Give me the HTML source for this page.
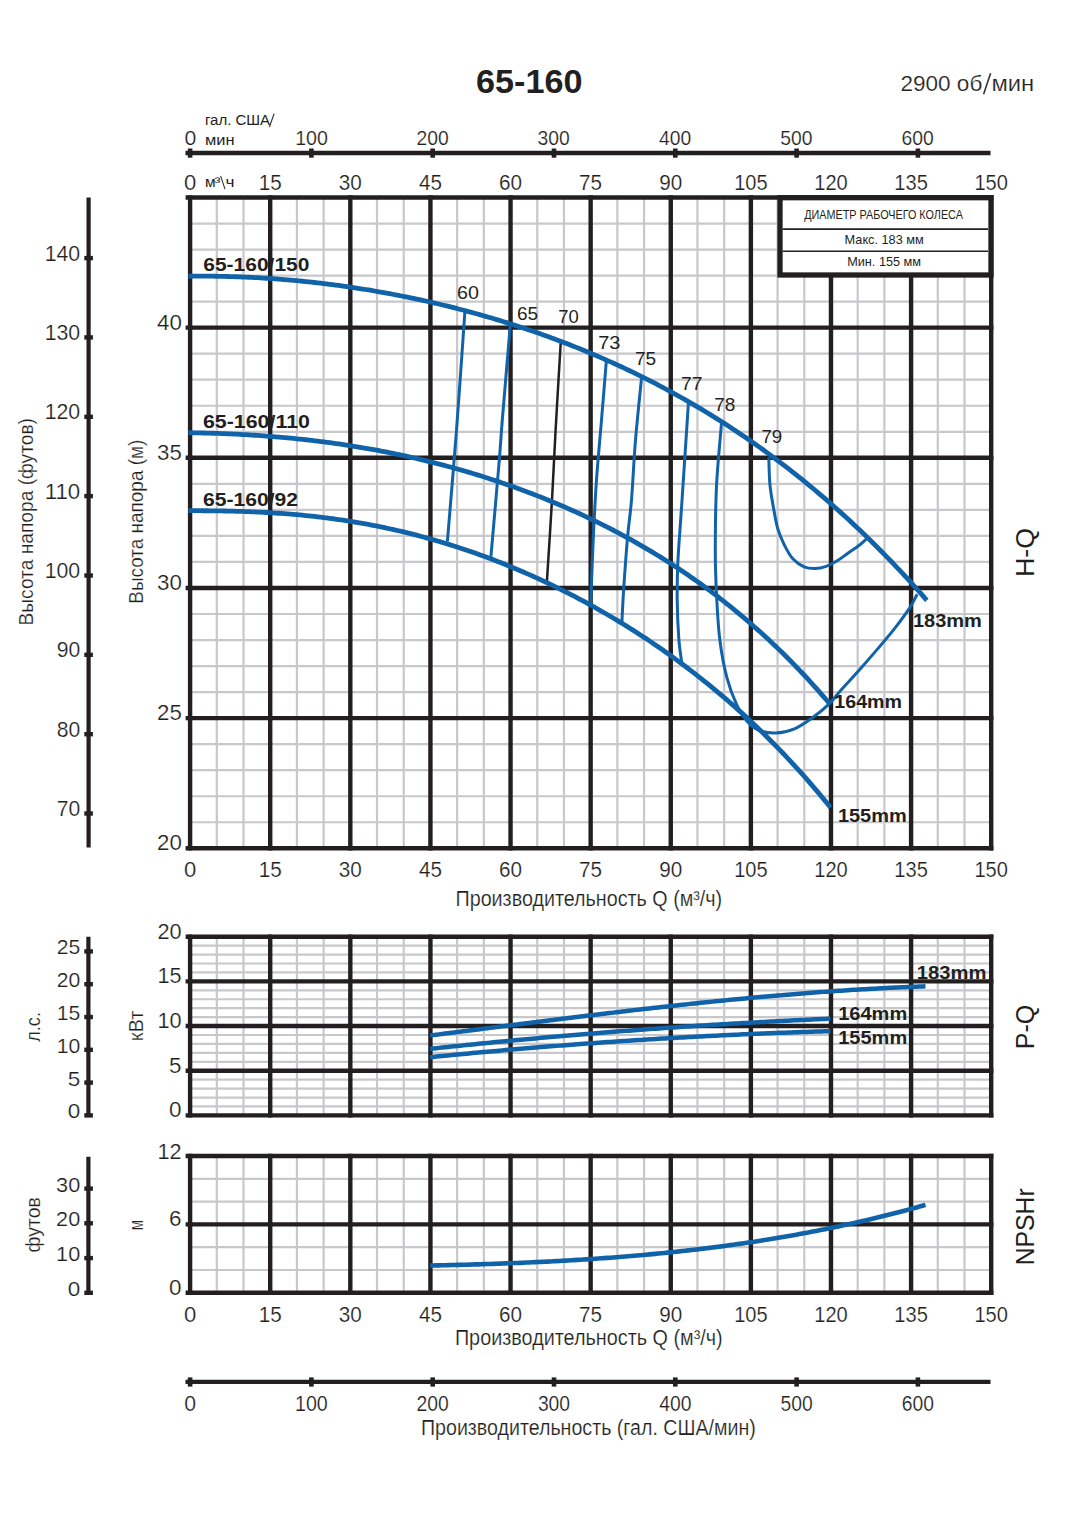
<!DOCTYPE html>
<html><head><meta charset="utf-8"><title>65-160</title>
<style>html,body{margin:0;padding:0;background:#fff;width:1088px;height:1538px;overflow:hidden;position:relative}
text{font-family:"Liberation Sans",sans-serif}
text.thin{stroke:#fff;stroke-width:0.2px}</style></head>
<body>
<svg width="1088" height="1538" viewBox="0 0 1088 1538" style="position:absolute;left:0;top:0">
<g font-family='"Liberation Sans", sans-serif'>
<text x="476.0" y="92.6" font-size="33" font-weight="bold" text-anchor="start" fill="#231f20" textLength="106.5" lengthAdjust="spacingAndGlyphs">65-160</text>
<text class="thin" x="900.5" y="90.5" font-size="22.4" font-weight="normal" text-anchor="start" fill="#231f20" textLength="81.8" lengthAdjust="spacingAndGlyphs">2900 об</text>
<line x1="990.60" y1="73.20" x2="983.60" y2="94.20" stroke="#333" stroke-width="1.6" stroke-linecap="butt"/>
<text class="thin" x="991.4" y="90.5" font-size="22.4" font-weight="normal" text-anchor="start" fill="#231f20" textLength="42.8" lengthAdjust="spacingAndGlyphs">мин</text>
<line x1="185.50" y1="153.00" x2="990.50" y2="153.00" stroke="#231f20" stroke-width="4.4" stroke-linecap="butt"/>
<rect x="187.8" y="148.5" width="4.6" height="9.2" fill="#231f20"/>
<rect x="309.1" y="148.5" width="4.6" height="9.2" fill="#231f20"/>
<rect x="430.4" y="148.5" width="4.6" height="9.2" fill="#231f20"/>
<rect x="551.7" y="148.5" width="4.6" height="9.2" fill="#231f20"/>
<rect x="673.0" y="148.5" width="4.6" height="9.2" fill="#231f20"/>
<rect x="794.3" y="148.5" width="4.6" height="9.2" fill="#231f20"/>
<rect x="915.6" y="148.5" width="4.6" height="9.2" fill="#231f20"/>
<text class="thin" x="184.6" y="145.4" font-size="20.5" font-weight="normal" text-anchor="start" fill="#231f20" textLength="11.8" lengthAdjust="spacingAndGlyphs">0</text>
<text class="thin" x="295.2" y="145.4" font-size="20.5" font-weight="normal" text-anchor="start" fill="#231f20" textLength="32.8" lengthAdjust="spacingAndGlyphs">100</text>
<text class="thin" x="416.6" y="145.4" font-size="20.5" font-weight="normal" text-anchor="start" fill="#231f20" textLength="32.2" lengthAdjust="spacingAndGlyphs">200</text>
<text class="thin" x="537.6" y="145.4" font-size="20.5" font-weight="normal" text-anchor="start" fill="#231f20" textLength="32.2" lengthAdjust="spacingAndGlyphs">300</text>
<text class="thin" x="659.0" y="145.4" font-size="20.5" font-weight="normal" text-anchor="start" fill="#231f20" textLength="32.2" lengthAdjust="spacingAndGlyphs">400</text>
<text class="thin" x="780.3" y="145.4" font-size="20.5" font-weight="normal" text-anchor="start" fill="#231f20" textLength="32.2" lengthAdjust="spacingAndGlyphs">500</text>
<text class="thin" x="901.6" y="145.4" font-size="20.5" font-weight="normal" text-anchor="start" fill="#231f20" textLength="32.2" lengthAdjust="spacingAndGlyphs">600</text>
<text x="204.9" y="124.9" font-size="15.5" font-weight="normal" text-anchor="start" fill="#231f20" textLength="65.2" lengthAdjust="spacingAndGlyphs">гал. США</text>
<line x1="274.10" y1="113.60" x2="269.40" y2="127.00" stroke="#333" stroke-width="1.15" stroke-linecap="butt"/>
<text x="204.9" y="144.8" font-size="15.5" font-weight="normal" text-anchor="start" fill="#231f20" textLength="29.6" lengthAdjust="spacingAndGlyphs">мин</text>
<text class="thin" x="190.1" y="189.6" font-size="22" font-weight="normal" text-anchor="middle" fill="#231f20" textLength="12.3" lengthAdjust="spacingAndGlyphs">0</text>
<text class="thin" x="270.2" y="189.6" font-size="22" font-weight="normal" text-anchor="middle" fill="#231f20" textLength="23.0" lengthAdjust="spacingAndGlyphs">15</text>
<text class="thin" x="350.3" y="189.6" font-size="22" font-weight="normal" text-anchor="middle" fill="#231f20" textLength="23.0" lengthAdjust="spacingAndGlyphs">30</text>
<text class="thin" x="430.4" y="189.6" font-size="22" font-weight="normal" text-anchor="middle" fill="#231f20" textLength="23.0" lengthAdjust="spacingAndGlyphs">45</text>
<text class="thin" x="510.5" y="189.6" font-size="22" font-weight="normal" text-anchor="middle" fill="#231f20" textLength="23.0" lengthAdjust="spacingAndGlyphs">60</text>
<text class="thin" x="590.6" y="189.6" font-size="22" font-weight="normal" text-anchor="middle" fill="#231f20" textLength="23.0" lengthAdjust="spacingAndGlyphs">75</text>
<text class="thin" x="670.8" y="189.6" font-size="22" font-weight="normal" text-anchor="middle" fill="#231f20" textLength="23.0" lengthAdjust="spacingAndGlyphs">90</text>
<text class="thin" x="750.9" y="189.6" font-size="22" font-weight="normal" text-anchor="middle" fill="#231f20" textLength="33.5" lengthAdjust="spacingAndGlyphs">105</text>
<text class="thin" x="831.0" y="189.6" font-size="22" font-weight="normal" text-anchor="middle" fill="#231f20" textLength="33.5" lengthAdjust="spacingAndGlyphs">120</text>
<text class="thin" x="911.1" y="189.6" font-size="22" font-weight="normal" text-anchor="middle" fill="#231f20" textLength="33.5" lengthAdjust="spacingAndGlyphs">135</text>
<text class="thin" x="991.2" y="189.6" font-size="22" font-weight="normal" text-anchor="middle" fill="#231f20" textLength="33.5" lengthAdjust="spacingAndGlyphs">150</text>
<text x="204.9" y="187.0" font-size="15.5" font-weight="normal" text-anchor="start" fill="#231f20" textLength="10.6" lengthAdjust="spacingAndGlyphs">м</text>
<text x="214.6" y="185.8" font-size="13" font-weight="normal" text-anchor="start" fill="#231f20" textLength="6.0" lengthAdjust="spacingAndGlyphs">³</text>
<line x1="220.60" y1="175.80" x2="225.00" y2="189.10" stroke="#333" stroke-width="1.1" stroke-linecap="butt"/>
<text x="225.6" y="187.0" font-size="15.5" font-weight="normal" text-anchor="start" fill="#231f20" textLength="9.0" lengthAdjust="spacingAndGlyphs">ч</text>
<line x1="216.80" y1="197.50" x2="216.80" y2="848.30" stroke="#c8c8cc" stroke-width="2.2" stroke-linecap="butt"/>
<line x1="243.51" y1="197.50" x2="243.51" y2="848.30" stroke="#c8c8cc" stroke-width="2.2" stroke-linecap="butt"/>
<line x1="296.91" y1="197.50" x2="296.91" y2="848.30" stroke="#c8c8cc" stroke-width="2.2" stroke-linecap="butt"/>
<line x1="323.62" y1="197.50" x2="323.62" y2="848.30" stroke="#c8c8cc" stroke-width="2.2" stroke-linecap="butt"/>
<line x1="377.02" y1="197.50" x2="377.02" y2="848.30" stroke="#c8c8cc" stroke-width="2.2" stroke-linecap="butt"/>
<line x1="403.73" y1="197.50" x2="403.73" y2="848.30" stroke="#c8c8cc" stroke-width="2.2" stroke-linecap="butt"/>
<line x1="457.13" y1="197.50" x2="457.13" y2="848.30" stroke="#c8c8cc" stroke-width="2.2" stroke-linecap="butt"/>
<line x1="483.84" y1="197.50" x2="483.84" y2="848.30" stroke="#c8c8cc" stroke-width="2.2" stroke-linecap="butt"/>
<line x1="537.24" y1="197.50" x2="537.24" y2="848.30" stroke="#c8c8cc" stroke-width="2.2" stroke-linecap="butt"/>
<line x1="563.95" y1="197.50" x2="563.95" y2="848.30" stroke="#c8c8cc" stroke-width="2.2" stroke-linecap="butt"/>
<line x1="617.35" y1="197.50" x2="617.35" y2="848.30" stroke="#c8c8cc" stroke-width="2.2" stroke-linecap="butt"/>
<line x1="644.06" y1="197.50" x2="644.06" y2="848.30" stroke="#c8c8cc" stroke-width="2.2" stroke-linecap="butt"/>
<line x1="697.46" y1="197.50" x2="697.46" y2="848.30" stroke="#c8c8cc" stroke-width="2.2" stroke-linecap="butt"/>
<line x1="724.17" y1="197.50" x2="724.17" y2="848.30" stroke="#c8c8cc" stroke-width="2.2" stroke-linecap="butt"/>
<line x1="777.57" y1="197.50" x2="777.57" y2="848.30" stroke="#c8c8cc" stroke-width="2.2" stroke-linecap="butt"/>
<line x1="804.28" y1="197.50" x2="804.28" y2="848.30" stroke="#c8c8cc" stroke-width="2.2" stroke-linecap="butt"/>
<line x1="857.68" y1="197.50" x2="857.68" y2="848.30" stroke="#c8c8cc" stroke-width="2.2" stroke-linecap="butt"/>
<line x1="884.39" y1="197.50" x2="884.39" y2="848.30" stroke="#c8c8cc" stroke-width="2.2" stroke-linecap="butt"/>
<line x1="937.79" y1="197.50" x2="937.79" y2="848.30" stroke="#c8c8cc" stroke-width="2.2" stroke-linecap="butt"/>
<line x1="964.50" y1="197.50" x2="964.50" y2="848.30" stroke="#c8c8cc" stroke-width="2.2" stroke-linecap="butt"/>
<line x1="190.10" y1="223.53" x2="991.20" y2="223.53" stroke="#c8c8cc" stroke-width="2.2" stroke-linecap="butt"/>
<line x1="190.10" y1="249.56" x2="991.20" y2="249.56" stroke="#c8c8cc" stroke-width="2.2" stroke-linecap="butt"/>
<line x1="190.10" y1="275.60" x2="991.20" y2="275.60" stroke="#c8c8cc" stroke-width="2.2" stroke-linecap="butt"/>
<line x1="190.10" y1="301.63" x2="991.20" y2="301.63" stroke="#c8c8cc" stroke-width="2.2" stroke-linecap="butt"/>
<line x1="190.10" y1="353.69" x2="991.20" y2="353.69" stroke="#c8c8cc" stroke-width="2.2" stroke-linecap="butt"/>
<line x1="190.10" y1="379.72" x2="991.20" y2="379.72" stroke="#c8c8cc" stroke-width="2.2" stroke-linecap="butt"/>
<line x1="190.10" y1="405.76" x2="991.20" y2="405.76" stroke="#c8c8cc" stroke-width="2.2" stroke-linecap="butt"/>
<line x1="190.10" y1="431.79" x2="991.20" y2="431.79" stroke="#c8c8cc" stroke-width="2.2" stroke-linecap="butt"/>
<line x1="190.10" y1="483.85" x2="991.20" y2="483.85" stroke="#c8c8cc" stroke-width="2.2" stroke-linecap="butt"/>
<line x1="190.10" y1="509.88" x2="991.20" y2="509.88" stroke="#c8c8cc" stroke-width="2.2" stroke-linecap="butt"/>
<line x1="190.10" y1="535.92" x2="991.20" y2="535.92" stroke="#c8c8cc" stroke-width="2.2" stroke-linecap="butt"/>
<line x1="190.10" y1="561.95" x2="991.20" y2="561.95" stroke="#c8c8cc" stroke-width="2.2" stroke-linecap="butt"/>
<line x1="190.10" y1="614.01" x2="991.20" y2="614.01" stroke="#c8c8cc" stroke-width="2.2" stroke-linecap="butt"/>
<line x1="190.10" y1="640.04" x2="991.20" y2="640.04" stroke="#c8c8cc" stroke-width="2.2" stroke-linecap="butt"/>
<line x1="190.10" y1="666.08" x2="991.20" y2="666.08" stroke="#c8c8cc" stroke-width="2.2" stroke-linecap="butt"/>
<line x1="190.10" y1="692.11" x2="991.20" y2="692.11" stroke="#c8c8cc" stroke-width="2.2" stroke-linecap="butt"/>
<line x1="190.10" y1="744.17" x2="991.20" y2="744.17" stroke="#c8c8cc" stroke-width="2.2" stroke-linecap="butt"/>
<line x1="190.10" y1="770.20" x2="991.20" y2="770.20" stroke="#c8c8cc" stroke-width="2.2" stroke-linecap="butt"/>
<line x1="190.10" y1="796.24" x2="991.20" y2="796.24" stroke="#c8c8cc" stroke-width="2.2" stroke-linecap="butt"/>
<line x1="190.10" y1="822.27" x2="991.20" y2="822.27" stroke="#c8c8cc" stroke-width="2.2" stroke-linecap="butt"/>
<line x1="185.60" y1="197.50" x2="993.40" y2="197.50" stroke="#231f20" stroke-width="4.4" stroke-linecap="butt"/>
<line x1="185.60" y1="327.66" x2="993.40" y2="327.66" stroke="#231f20" stroke-width="4.4" stroke-linecap="butt"/>
<line x1="185.60" y1="457.82" x2="993.40" y2="457.82" stroke="#231f20" stroke-width="4.4" stroke-linecap="butt"/>
<line x1="185.60" y1="587.98" x2="993.40" y2="587.98" stroke="#231f20" stroke-width="4.4" stroke-linecap="butt"/>
<line x1="185.60" y1="718.14" x2="993.40" y2="718.14" stroke="#231f20" stroke-width="4.4" stroke-linecap="butt"/>
<line x1="185.60" y1="848.30" x2="993.40" y2="848.30" stroke="#231f20" stroke-width="4.4" stroke-linecap="butt"/>
<line x1="190.10" y1="195.30" x2="190.10" y2="850.50" stroke="#231f20" stroke-width="4.4" stroke-linecap="butt"/>
<line x1="270.21" y1="195.30" x2="270.21" y2="850.50" stroke="#231f20" stroke-width="4.4" stroke-linecap="butt"/>
<line x1="350.32" y1="195.30" x2="350.32" y2="850.50" stroke="#231f20" stroke-width="4.4" stroke-linecap="butt"/>
<line x1="430.43" y1="195.30" x2="430.43" y2="850.50" stroke="#231f20" stroke-width="4.4" stroke-linecap="butt"/>
<line x1="510.54" y1="195.30" x2="510.54" y2="850.50" stroke="#231f20" stroke-width="4.4" stroke-linecap="butt"/>
<line x1="590.65" y1="195.30" x2="590.65" y2="850.50" stroke="#231f20" stroke-width="4.4" stroke-linecap="butt"/>
<line x1="670.76" y1="195.30" x2="670.76" y2="850.50" stroke="#231f20" stroke-width="4.4" stroke-linecap="butt"/>
<line x1="750.87" y1="195.30" x2="750.87" y2="850.50" stroke="#231f20" stroke-width="4.4" stroke-linecap="butt"/>
<line x1="830.98" y1="195.30" x2="830.98" y2="850.50" stroke="#231f20" stroke-width="4.4" stroke-linecap="butt"/>
<line x1="911.09" y1="195.30" x2="911.09" y2="850.50" stroke="#231f20" stroke-width="4.4" stroke-linecap="butt"/>
<line x1="991.20" y1="195.30" x2="991.20" y2="850.50" stroke="#231f20" stroke-width="4.4" stroke-linecap="butt"/>
<line x1="88.60" y1="197.50" x2="88.60" y2="847.50" stroke="#231f20" stroke-width="4.2" stroke-linecap="butt"/>
<rect x="84.3" y="811.3" width="8.6" height="4.4" fill="#231f20"/>
<text class="thin" x="80.2" y="816.1" font-size="21.8" font-weight="normal" text-anchor="end" fill="#231f20" textLength="23.5" lengthAdjust="spacingAndGlyphs">70</text>
<rect x="84.3" y="732.0" width="8.6" height="4.4" fill="#231f20"/>
<text class="thin" x="80.2" y="736.8" font-size="21.8" font-weight="normal" text-anchor="end" fill="#231f20" textLength="23.5" lengthAdjust="spacingAndGlyphs">80</text>
<rect x="84.3" y="652.6" width="8.6" height="4.4" fill="#231f20"/>
<text class="thin" x="80.2" y="657.4" font-size="21.8" font-weight="normal" text-anchor="end" fill="#231f20" textLength="23.5" lengthAdjust="spacingAndGlyphs">90</text>
<rect x="84.3" y="573.3" width="8.6" height="4.4" fill="#231f20"/>
<text class="thin" x="80.2" y="578.1" font-size="21.8" font-weight="normal" text-anchor="end" fill="#231f20" textLength="35.5" lengthAdjust="spacingAndGlyphs">100</text>
<rect x="84.3" y="493.9" width="8.6" height="4.4" fill="#231f20"/>
<text class="thin" x="80.2" y="498.7" font-size="21.8" font-weight="normal" text-anchor="end" fill="#231f20" textLength="35.5" lengthAdjust="spacingAndGlyphs">110</text>
<rect x="84.3" y="414.6" width="8.6" height="4.4" fill="#231f20"/>
<text class="thin" x="80.2" y="419.4" font-size="21.8" font-weight="normal" text-anchor="end" fill="#231f20" textLength="35.5" lengthAdjust="spacingAndGlyphs">120</text>
<rect x="84.3" y="335.2" width="8.6" height="4.4" fill="#231f20"/>
<text class="thin" x="80.2" y="340.0" font-size="21.8" font-weight="normal" text-anchor="end" fill="#231f20" textLength="35.5" lengthAdjust="spacingAndGlyphs">130</text>
<rect x="84.3" y="255.9" width="8.6" height="4.4" fill="#231f20"/>
<text class="thin" x="80.2" y="260.7" font-size="21.8" font-weight="normal" text-anchor="end" fill="#231f20" textLength="35.5" lengthAdjust="spacingAndGlyphs">140</text>
<text class="thin" x="181.8" y="850.3" font-size="21.5" font-weight="normal" text-anchor="end" fill="#231f20" textLength="24.8" lengthAdjust="spacingAndGlyphs">20</text>
<text class="thin" x="181.8" y="720.1" font-size="21.5" font-weight="normal" text-anchor="end" fill="#231f20" textLength="24.8" lengthAdjust="spacingAndGlyphs">25</text>
<text class="thin" x="181.8" y="590.0" font-size="21.5" font-weight="normal" text-anchor="end" fill="#231f20" textLength="24.8" lengthAdjust="spacingAndGlyphs">30</text>
<text class="thin" x="181.8" y="459.8" font-size="21.5" font-weight="normal" text-anchor="end" fill="#231f20" textLength="24.8" lengthAdjust="spacingAndGlyphs">35</text>
<text class="thin" x="181.8" y="329.7" font-size="21.5" font-weight="normal" text-anchor="end" fill="#231f20" textLength="24.8" lengthAdjust="spacingAndGlyphs">40</text>
<text class="thin" transform="translate(33.4,625.5) rotate(-90)" x="0" y="0" font-size="20" font-weight="normal" fill="#231f20" textLength="207.5" lengthAdjust="spacingAndGlyphs">Высота напора (футов)</text>
<text class="thin" transform="translate(143.4,603.7) rotate(-90)" x="0" y="0" font-size="20" font-weight="normal" fill="#231f20" textLength="164.0" lengthAdjust="spacingAndGlyphs">Высота напора (м)</text>
<text class="thin" x="190.1" y="876.6" font-size="22" font-weight="normal" text-anchor="middle" fill="#231f20" textLength="12.3" lengthAdjust="spacingAndGlyphs">0</text>
<text class="thin" x="270.2" y="876.6" font-size="22" font-weight="normal" text-anchor="middle" fill="#231f20" textLength="23.0" lengthAdjust="spacingAndGlyphs">15</text>
<text class="thin" x="350.3" y="876.6" font-size="22" font-weight="normal" text-anchor="middle" fill="#231f20" textLength="23.0" lengthAdjust="spacingAndGlyphs">30</text>
<text class="thin" x="430.4" y="876.6" font-size="22" font-weight="normal" text-anchor="middle" fill="#231f20" textLength="23.0" lengthAdjust="spacingAndGlyphs">45</text>
<text class="thin" x="510.5" y="876.6" font-size="22" font-weight="normal" text-anchor="middle" fill="#231f20" textLength="23.0" lengthAdjust="spacingAndGlyphs">60</text>
<text class="thin" x="590.6" y="876.6" font-size="22" font-weight="normal" text-anchor="middle" fill="#231f20" textLength="23.0" lengthAdjust="spacingAndGlyphs">75</text>
<text class="thin" x="670.8" y="876.6" font-size="22" font-weight="normal" text-anchor="middle" fill="#231f20" textLength="23.0" lengthAdjust="spacingAndGlyphs">90</text>
<text class="thin" x="750.9" y="876.6" font-size="22" font-weight="normal" text-anchor="middle" fill="#231f20" textLength="33.5" lengthAdjust="spacingAndGlyphs">105</text>
<text class="thin" x="831.0" y="876.6" font-size="22" font-weight="normal" text-anchor="middle" fill="#231f20" textLength="33.5" lengthAdjust="spacingAndGlyphs">120</text>
<text class="thin" x="911.1" y="876.6" font-size="22" font-weight="normal" text-anchor="middle" fill="#231f20" textLength="33.5" lengthAdjust="spacingAndGlyphs">135</text>
<text class="thin" x="991.2" y="876.6" font-size="22" font-weight="normal" text-anchor="middle" fill="#231f20" textLength="33.5" lengthAdjust="spacingAndGlyphs">150</text>
<text class="thin" x="455.5" y="905.8" font-size="21.5" font-weight="normal" text-anchor="start" fill="#231f20" textLength="266.7" lengthAdjust="spacingAndGlyphs">Производительность Q (м³/ч)</text>
<rect x="780.0" y="197.7" width="211" height="77.3" fill="#fff" stroke="#231f20" stroke-width="5.3"/>
<line x1="782.70" y1="229.10" x2="988.00" y2="229.10" stroke="#231f20" stroke-width="1.6" stroke-linecap="butt"/>
<line x1="782.70" y1="251.20" x2="988.00" y2="251.20" stroke="#231f20" stroke-width="1.6" stroke-linecap="butt"/>
<text x="804.2" y="218.6" font-size="12.5" font-weight="normal" text-anchor="start" fill="#231f20" textLength="158.7" lengthAdjust="spacingAndGlyphs">ДИАМЕТР РАБОЧЕГО КОЛЕСА</text>
<text x="844.6" y="243.5" font-size="13" font-weight="normal" text-anchor="start" fill="#231f20" textLength="79.2" lengthAdjust="spacingAndGlyphs">Макс. 183 мм</text>
<text x="847.2" y="265.5" font-size="13" font-weight="normal" text-anchor="start" fill="#231f20" textLength="73.8" lengthAdjust="spacingAndGlyphs">Мин. 155 мм</text>
<path d="M464.90,311.60 C463.50,331.33 459.42,391.72 456.50,430.00 C453.58,468.28 448.92,522.75 447.40,541.30" fill="none" stroke="#1163a9" stroke-width="3.0" stroke-linecap="butt" stroke-linejoin="round"/>
<path d="M510.30,325.00 C508.97,340.83 504.13,397.50 502.30,420.00 C500.47,442.50 501.20,437.20 499.30,460.00 C497.40,482.80 492.30,540.67 490.90,556.80" fill="none" stroke="#1163a9" stroke-width="3.0" stroke-linecap="butt" stroke-linejoin="round"/>
<path d="M606.30,361.50 C605.50,371.25 603.13,400.25 601.50,420.00 C599.87,439.75 597.88,460.00 596.50,480.00 C595.12,500.00 594.18,518.83 593.20,540.00 C592.22,561.17 591.03,595.83 590.60,607.00" fill="none" stroke="#1163a9" stroke-width="3.0" stroke-linecap="butt" stroke-linejoin="round"/>
<path d="M641.50,378.40 C640.50,388.67 637.17,419.73 635.50,440.00 C633.83,460.27 632.80,484.05 631.50,500.00 C630.20,515.95 628.98,521.17 627.70,535.70 C626.42,550.23 624.77,572.82 623.80,587.20 C622.83,601.58 622.22,616.20 621.90,622.00" fill="none" stroke="#1163a9" stroke-width="3.0" stroke-linecap="butt" stroke-linejoin="round"/>
<path d="M688.40,403.20 C687.28,420.17 683.45,478.62 681.70,505.00 C679.95,531.38 678.65,545.67 677.90,561.50 C677.15,577.33 677.05,587.13 677.20,600.00 C677.35,612.87 678.05,628.28 678.80,638.70 C679.55,649.12 681.22,658.53 681.70,662.50" fill="none" stroke="#1163a9" stroke-width="3.0" stroke-linecap="butt" stroke-linejoin="round"/>
<path d="M721.50,423.40 C720.67,433.87 717.53,464.77 716.50,486.20 C715.47,507.63 715.30,534.10 715.30,552.00 C715.30,569.90 715.77,579.15 716.50,593.60 C717.23,608.05 717.98,624.75 719.70,638.70 C721.42,652.65 723.88,666.10 726.80,677.30 C729.72,688.50 733.80,698.52 737.20,705.90 C740.60,713.28 743.63,717.55 747.20,721.60 C750.77,725.65 753.83,728.30 758.60,730.20 C763.37,732.10 769.83,733.23 775.80,733.00 C781.77,732.77 788.20,731.42 794.40,728.80 C800.60,726.18 807.28,721.37 813.00,717.30 C818.72,713.23 824.20,708.75 828.70,704.40 C833.20,700.05 835.05,696.77 840.00,691.20 C844.95,685.63 852.27,677.88 858.40,671.00 C864.53,664.12 870.68,657.10 876.80,649.90 C882.92,642.70 889.58,634.85 895.10,627.80 C900.62,620.75 906.22,613.20 909.90,607.60 C913.58,602.00 915.98,596.43 917.20,594.20" fill="none" stroke="#1163a9" stroke-width="3.0" stroke-linecap="butt" stroke-linejoin="round"/>
<path d="M768.80,457.60 C768.98,462.02 769.17,476.00 769.90,484.10 C770.63,492.20 771.92,498.85 773.20,506.20 C774.48,513.55 775.75,521.77 777.60,528.20 C779.45,534.63 781.72,539.65 784.30,544.80 C786.88,549.95 789.80,555.43 793.10,559.10 C796.40,562.77 800.43,565.23 804.10,566.80 C807.77,568.37 811.42,568.58 815.10,568.50 C818.78,568.42 822.52,567.58 826.20,566.30 C829.88,565.02 833.53,563.02 837.20,560.80 C840.87,558.58 844.52,555.58 848.20,553.00 C851.88,550.42 856.27,547.63 859.30,545.30 C862.33,542.97 865.22,540.05 866.40,539.00" fill="none" stroke="#1163a9" stroke-width="3.0" stroke-linecap="butt" stroke-linejoin="round"/>
<path d="M560.80,341.30 C559.93,356.08 557.07,403.57 555.60,430.00 C554.13,456.43 553.45,474.63 552.00,499.90 C550.55,525.17 547.75,567.98 546.90,581.60" fill="none" stroke="#231f20" stroke-width="2.5" stroke-linecap="butt" stroke-linejoin="round"/>
<path d="M188.50,276.26 L191.50,276.22 L194.50,276.19 L197.50,276.17 L200.50,276.16 L203.51,276.15 L206.51,276.16 L209.51,276.18 L212.51,276.21 L215.51,276.24 L218.51,276.29 L221.51,276.34 L224.51,276.40 L227.52,276.48 L230.52,276.56 L233.52,276.65 L236.52,276.75 L239.52,276.86 L242.52,276.98 L245.52,277.11 L248.52,277.24 L251.53,277.39 L254.53,277.55 L257.53,277.71 L260.53,277.88 L263.53,278.06 L266.53,278.25 L269.53,278.45 L272.53,278.66 L275.54,278.88 L278.54,279.11 L281.54,279.34 L284.54,279.59 L287.54,279.84 L290.54,280.10 L293.54,280.37 L296.54,280.65 L299.55,280.94 L302.55,281.24 L305.55,281.54 L308.55,281.86 L311.55,282.18 L314.55,282.51 L317.55,282.85 L320.55,283.20 L323.55,283.56 L326.56,283.93 L329.56,284.30 L332.56,284.69 L335.56,285.08 L338.56,285.48 L341.56,285.90 L344.56,286.32 L347.56,286.74 L350.57,287.18 L353.57,287.63 L356.57,288.08 L359.57,288.55 L362.57,289.02 L365.57,289.50 L368.57,289.99 L371.57,290.49 L374.58,291.00 L377.58,291.52 L380.58,292.04 L383.58,292.58 L386.58,293.12 L389.58,293.68 L392.58,294.24 L395.58,294.81 L398.59,295.39 L401.59,295.98 L404.59,296.58 L407.59,297.19 L410.59,297.81 L413.59,298.43 L416.59,299.07 L419.59,299.71 L422.60,300.37 L425.60,301.03 L428.60,301.70 L431.60,302.39 L434.60,303.08 L437.60,303.78 L440.60,304.49 L443.60,305.21 L446.60,305.94 L449.61,306.68 L452.61,307.43 L455.61,308.19 L458.61,308.96 L461.61,309.74 L464.61,310.52 L467.61,311.32 L470.61,312.13 L473.62,312.95 L476.62,313.78 L479.62,314.62 L482.62,315.46 L485.62,316.32 L488.62,317.19 L491.62,318.07 L494.62,318.96 L497.63,319.86 L500.63,320.77 L503.63,321.69 L506.63,322.62 L509.63,323.57 L512.63,324.52 L515.63,325.48 L518.63,326.46 L521.64,327.44 L524.64,328.44 L527.64,329.45 L530.64,330.46 L533.64,331.49 L536.64,332.53 L539.64,333.59 L542.64,334.65 L545.65,335.72 L548.65,336.81 L551.65,337.91 L554.65,339.02 L557.65,340.14 L560.65,341.27 L563.65,342.42 L566.65,343.57 L569.65,344.74 L572.66,345.92 L575.66,347.12 L578.66,348.32 L581.66,349.54 L584.66,350.77 L587.66,352.01 L590.66,353.27 L593.66,354.53 L596.67,355.81 L599.67,357.11 L602.67,358.41 L605.67,359.73 L608.67,361.07 L611.67,362.41 L614.67,363.77 L617.67,365.14 L620.68,366.53 L623.68,367.93 L626.68,369.34 L629.68,370.77 L632.68,372.21 L635.68,373.66 L638.68,375.13 L641.68,376.61 L644.69,378.11 L647.69,379.62 L650.69,381.15 L653.69,382.69 L656.69,384.24 L659.69,385.81 L662.69,387.40 L665.69,389.00 L668.70,390.61 L671.70,392.24 L674.70,393.89 L677.70,395.55 L680.70,397.23 L683.70,398.92 L686.70,400.63 L689.70,402.35 L692.70,404.09 L695.71,405.84 L698.71,407.62 L701.71,409.41 L704.71,411.21 L707.71,413.03 L710.71,414.87 L713.71,416.73 L716.71,418.60 L719.72,420.49 L722.72,422.39 L725.72,424.32 L728.72,426.26 L731.72,428.22 L734.72,430.20 L737.72,432.19 L740.72,434.20 L743.73,436.23 L746.73,438.28 L749.73,440.35 L752.73,442.44 L755.73,444.54 L758.73,446.66 L761.73,448.81 L764.73,450.97 L767.74,453.15 L770.74,455.35 L773.74,457.57 L776.74,459.81 L779.74,462.07 L782.74,464.35 L785.74,466.65 L788.74,468.97 L791.75,471.31 L794.75,473.67 L797.75,476.05 L800.75,478.45 L803.75,480.87 L806.75,483.32 L809.75,485.78 L812.75,488.27 L815.75,490.78 L818.76,493.31 L821.76,495.86 L824.76,498.44 L827.76,501.03 L830.76,503.65 L833.76,506.29 L836.76,508.96 L839.76,511.64 L842.77,514.36 L845.77,517.09 L848.77,519.85 L851.77,522.63 L854.77,525.43 L857.77,528.26 L860.77,531.11 L863.77,533.99 L866.78,536.89 L869.78,539.81 L872.78,542.76 L875.78,545.74 L878.78,548.74 L881.78,551.76 L884.78,554.81 L887.78,557.89 L890.79,560.99 L893.79,564.12 L896.79,567.28 L899.79,570.46 L902.79,573.66 L905.79,576.90 L908.79,580.16 L911.79,583.45 L914.80,586.76 L917.80,590.10 L920.80,593.47 L923.80,596.87 L926.80,600.30" fill="none" stroke="#1163a9" stroke-width="4.8" stroke-linecap="butt" stroke-linejoin="round"/>
<path d="M188.50,432.68 L191.51,432.73 L194.52,432.78 L197.53,432.85 L200.54,432.91 L203.55,432.99 L206.56,433.07 L209.57,433.15 L212.58,433.24 L215.58,433.34 L218.59,433.45 L221.60,433.56 L224.61,433.68 L227.62,433.80 L230.63,433.94 L233.64,434.07 L236.65,434.22 L239.66,434.37 L242.67,434.54 L245.68,434.70 L248.69,434.88 L251.70,435.06 L254.71,435.25 L257.72,435.45 L260.73,435.66 L263.73,435.87 L266.74,436.09 L269.75,436.32 L272.76,436.56 L275.77,436.81 L278.78,437.06 L281.79,437.33 L284.80,437.60 L287.81,437.88 L290.82,438.17 L293.83,438.46 L296.84,438.77 L299.85,439.08 L302.86,439.41 L305.87,439.74 L308.88,440.08 L311.88,440.43 L314.89,440.79 L317.90,441.15 L320.91,441.53 L323.92,441.92 L326.93,442.31 L329.94,442.71 L332.95,443.13 L335.96,443.55 L338.97,443.98 L341.98,444.43 L344.99,444.88 L348.00,445.34 L351.01,445.81 L354.02,446.29 L357.03,446.78 L360.04,447.28 L363.04,447.79 L366.05,448.31 L369.06,448.83 L372.07,449.37 L375.08,449.92 L378.09,450.48 L381.10,451.05 L384.11,451.63 L387.12,452.22 L390.13,452.82 L393.14,453.43 L396.15,454.05 L399.16,454.68 L402.17,455.32 L405.18,455.97 L408.19,456.63 L411.19,457.31 L414.20,457.99 L417.21,458.68 L420.22,459.39 L423.23,460.10 L426.24,460.83 L429.25,461.57 L432.26,462.31 L435.27,463.07 L438.28,463.84 L441.29,464.62 L444.30,465.41 L447.31,466.22 L450.32,467.03 L453.33,467.86 L456.34,468.70 L459.35,469.54 L462.35,470.40 L465.36,471.28 L468.37,472.16 L471.38,473.06 L474.39,473.96 L477.40,474.88 L480.41,475.81 L483.42,476.75 L486.43,477.71 L489.44,478.68 L492.45,479.66 L495.46,480.65 L498.47,481.65 L501.48,482.67 L504.49,483.70 L507.50,484.74 L510.50,485.79 L513.51,486.86 L516.52,487.94 L519.53,489.03 L522.54,490.14 L525.55,491.26 L528.56,492.39 L531.57,493.54 L534.58,494.70 L537.59,495.87 L540.60,497.06 L543.61,498.26 L546.62,499.47 L549.63,500.70 L552.64,501.95 L555.65,503.20 L558.65,504.48 L561.66,505.76 L564.67,507.06 L567.68,508.38 L570.69,509.71 L573.70,511.06 L576.71,512.42 L579.72,513.80 L582.73,515.19 L585.74,516.60 L588.75,518.02 L591.76,519.46 L594.77,520.92 L597.78,522.39 L600.79,523.88 L603.80,525.38 L606.81,526.91 L609.81,528.44 L612.82,530.00 L615.83,531.58 L618.84,533.17 L621.85,534.78 L624.86,536.40 L627.87,538.05 L630.88,539.71 L633.89,541.39 L636.90,543.10 L639.91,544.81 L642.92,546.55 L645.93,548.31 L648.94,550.09 L651.95,551.89 L654.96,553.71 L657.96,555.54 L660.97,557.40 L663.98,559.28 L666.99,561.18 L670.00,563.10 L673.01,565.05 L676.02,567.01 L679.03,569.00 L682.04,571.01 L685.05,573.04 L688.06,575.09 L691.07,577.17 L694.08,579.27 L697.09,581.39 L700.10,583.54 L703.11,585.72 L706.12,587.91 L709.12,590.14 L712.13,592.38 L715.14,594.66 L718.15,596.96 L721.16,599.28 L724.17,601.63 L727.18,604.01 L730.19,606.42 L733.20,608.85 L736.21,611.31 L739.22,613.80 L742.23,616.32 L745.24,618.86 L748.25,621.44 L751.26,624.04 L754.27,626.68 L757.27,629.35 L760.28,632.04 L763.29,634.77 L766.30,637.53 L769.31,640.32 L772.32,643.15 L775.33,646.00 L778.34,648.89 L781.35,651.82 L784.36,654.78 L787.37,657.77 L790.38,660.80 L793.39,663.86 L796.40,666.96 L799.41,670.10 L802.42,673.27 L805.42,676.48 L808.43,679.73 L811.44,683.02 L814.45,686.34 L817.46,689.71 L820.47,693.11 L823.48,696.56 L826.49,700.05 L829.50,703.57" fill="none" stroke="#1163a9" stroke-width="4.8" stroke-linecap="butt" stroke-linejoin="round"/>
<path d="M188.50,510.67 L191.50,510.68 L194.50,510.68 L197.50,510.70 L200.50,510.71 L203.50,510.73 L206.50,510.75 L209.50,510.78 L212.50,510.81 L215.50,510.85 L218.50,510.89 L221.50,510.94 L224.50,511.00 L227.50,511.06 L230.50,511.12 L233.50,511.20 L236.50,511.28 L239.50,511.37 L242.50,511.46 L245.50,511.56 L248.50,511.67 L251.50,511.79 L254.50,511.92 L257.50,512.05 L260.50,512.20 L263.50,512.35 L266.50,512.51 L269.50,512.68 L272.50,512.86 L275.50,513.05 L278.50,513.25 L281.50,513.46 L284.50,513.68 L287.50,513.91 L290.50,514.15 L293.50,514.40 L296.50,514.67 L299.50,514.94 L302.50,515.22 L305.50,515.52 L308.50,515.82 L311.50,516.14 L314.50,516.47 L317.50,516.81 L320.50,517.16 L323.50,517.53 L326.50,517.90 L329.50,518.29 L332.50,518.69 L335.50,519.11 L338.50,519.53 L341.50,519.97 L344.50,520.42 L347.50,520.88 L350.50,521.36 L353.50,521.85 L356.50,522.35 L359.50,522.86 L362.50,523.39 L365.50,523.93 L368.50,524.48 L371.50,525.05 L374.50,525.63 L377.50,526.22 L380.50,526.83 L383.50,527.45 L386.50,528.08 L389.50,528.73 L392.50,529.39 L395.50,530.06 L398.50,530.75 L401.50,531.45 L404.50,532.17 L407.50,532.90 L410.50,533.64 L413.50,534.40 L416.50,535.17 L419.50,535.96 L422.50,536.76 L425.50,537.57 L428.50,538.40 L431.50,539.24 L434.50,540.10 L437.50,540.97 L440.50,541.85 L443.50,542.75 L446.50,543.66 L449.50,544.59 L452.50,545.53 L455.50,546.49 L458.50,547.46 L461.50,548.45 L464.50,549.45 L467.50,550.46 L470.50,551.49 L473.50,552.53 L476.50,553.59 L479.50,554.66 L482.50,555.75 L485.50,556.85 L488.50,557.97 L491.50,559.10 L494.50,560.25 L497.50,561.41 L500.50,562.58 L503.50,563.77 L506.50,564.98 L509.50,566.20 L512.50,567.44 L515.50,568.69 L518.50,569.95 L521.50,571.23 L524.50,572.53 L527.50,573.84 L530.50,575.17 L533.50,576.51 L536.50,577.87 L539.50,579.24 L542.50,580.63 L545.50,582.03 L548.50,583.45 L551.50,584.89 L554.50,586.34 L557.50,587.81 L560.50,589.29 L563.50,590.79 L566.50,592.30 L569.50,593.84 L572.50,595.38 L575.50,596.95 L578.50,598.53 L581.50,600.12 L584.50,601.73 L587.50,603.36 L590.50,605.01 L593.50,606.67 L596.50,608.35 L599.50,610.05 L602.50,611.76 L605.50,613.49 L608.50,615.24 L611.50,617.01 L614.50,618.79 L617.50,620.59 L620.50,622.41 L623.50,624.25 L626.50,626.11 L629.50,627.98 L632.50,629.87 L635.50,631.78 L638.50,633.71 L641.50,635.66 L644.50,637.63 L647.50,639.61 L650.50,641.62 L653.50,643.65 L656.50,645.69 L659.50,647.76 L662.50,649.84 L665.50,651.95 L668.50,654.08 L671.50,656.22 L674.50,658.39 L677.50,660.58 L680.50,662.79 L683.50,665.02 L686.50,667.28 L689.50,669.56 L692.50,671.85 L695.50,674.18 L698.50,676.52 L701.50,678.89 L704.50,681.28 L707.50,683.70 L710.50,686.13 L713.50,688.60 L716.50,691.09 L719.50,693.60 L722.50,696.14 L725.50,698.70 L728.50,701.29 L731.50,703.91 L734.50,706.55 L737.50,709.22 L740.50,711.91 L743.50,714.64 L746.50,717.39 L749.50,720.17 L752.50,722.98 L755.50,725.82 L758.50,728.68 L761.50,731.58 L764.50,734.51 L767.50,737.47 L770.50,740.45 L773.50,743.48 L776.50,746.53 L779.50,749.61 L782.50,752.73 L785.50,755.88 L788.50,759.07 L791.50,762.29 L794.50,765.54 L797.50,768.83 L800.50,772.16 L803.50,775.52 L806.50,778.91 L809.50,782.35 L812.50,785.82 L815.50,789.34 L818.50,792.89 L821.50,796.48 L824.50,800.11 L827.50,803.78 L830.50,807.49" fill="none" stroke="#1163a9" stroke-width="4.8" stroke-linecap="butt" stroke-linejoin="round"/>
<text x="457.0" y="299.3" font-size="17.5" font-weight="normal" text-anchor="start" fill="#231f20" textLength="21.9" lengthAdjust="spacingAndGlyphs">60</text>
<text x="517.0" y="319.5" font-size="17.5" font-weight="normal" text-anchor="start" fill="#231f20" textLength="21.1" lengthAdjust="spacingAndGlyphs">65</text>
<text x="558.2" y="323.2" font-size="17.5" font-weight="normal" text-anchor="start" fill="#231f20" textLength="20.5" lengthAdjust="spacingAndGlyphs">70</text>
<text x="598.2" y="349.0" font-size="17.5" font-weight="normal" text-anchor="start" fill="#231f20" textLength="22.2" lengthAdjust="spacingAndGlyphs">73</text>
<text x="634.9" y="365.4" font-size="17.5" font-weight="normal" text-anchor="start" fill="#231f20" textLength="21.2" lengthAdjust="spacingAndGlyphs">75</text>
<text x="681.0" y="390.2" font-size="17.5" font-weight="normal" text-anchor="start" fill="#231f20" textLength="21.5" lengthAdjust="spacingAndGlyphs">77</text>
<text x="714.2" y="410.5" font-size="17.5" font-weight="normal" text-anchor="start" fill="#231f20" textLength="21.2" lengthAdjust="spacingAndGlyphs">78</text>
<text x="761.4" y="443.2" font-size="17.5" font-weight="normal" text-anchor="start" fill="#231f20" textLength="20.8" lengthAdjust="spacingAndGlyphs">79</text>
<text x="203.3" y="271.3" font-size="18" font-weight="bold" text-anchor="start" fill="#231f20" textLength="106.1" lengthAdjust="spacingAndGlyphs">65-160/150</text>
<text x="202.9" y="428.2" font-size="18" font-weight="bold" text-anchor="start" fill="#231f20" textLength="107.1" lengthAdjust="spacingAndGlyphs">65-160/110</text>
<text x="202.9" y="506.3" font-size="18" font-weight="bold" text-anchor="start" fill="#231f20" textLength="95.2" lengthAdjust="spacingAndGlyphs">65-160/92</text>
<text x="912.9" y="626.5" font-size="18" font-weight="bold" text-anchor="start" fill="#231f20" textLength="69.0" lengthAdjust="spacingAndGlyphs">183mm</text>
<text x="834.3" y="707.8" font-size="18" font-weight="bold" text-anchor="start" fill="#231f20" textLength="67.7" lengthAdjust="spacingAndGlyphs">164mm</text>
<text x="837.9" y="821.6" font-size="18" font-weight="bold" text-anchor="start" fill="#231f20" textLength="68.9" lengthAdjust="spacingAndGlyphs">155mm</text>
<text transform="translate(1033.7,577.0) rotate(-90)" x="0" y="0" font-size="25" font-weight="normal" fill="#231f20" textLength="49.0" lengthAdjust="spacingAndGlyphs">H-Q</text>
<line x1="216.80" y1="936.70" x2="216.80" y2="1115.40" stroke="#c8c8cc" stroke-width="2.2" stroke-linecap="butt"/>
<line x1="243.51" y1="936.70" x2="243.51" y2="1115.40" stroke="#c8c8cc" stroke-width="2.2" stroke-linecap="butt"/>
<line x1="296.91" y1="936.70" x2="296.91" y2="1115.40" stroke="#c8c8cc" stroke-width="2.2" stroke-linecap="butt"/>
<line x1="323.62" y1="936.70" x2="323.62" y2="1115.40" stroke="#c8c8cc" stroke-width="2.2" stroke-linecap="butt"/>
<line x1="377.02" y1="936.70" x2="377.02" y2="1115.40" stroke="#c8c8cc" stroke-width="2.2" stroke-linecap="butt"/>
<line x1="403.73" y1="936.70" x2="403.73" y2="1115.40" stroke="#c8c8cc" stroke-width="2.2" stroke-linecap="butt"/>
<line x1="457.13" y1="936.70" x2="457.13" y2="1115.40" stroke="#c8c8cc" stroke-width="2.2" stroke-linecap="butt"/>
<line x1="483.84" y1="936.70" x2="483.84" y2="1115.40" stroke="#c8c8cc" stroke-width="2.2" stroke-linecap="butt"/>
<line x1="537.24" y1="936.70" x2="537.24" y2="1115.40" stroke="#c8c8cc" stroke-width="2.2" stroke-linecap="butt"/>
<line x1="563.95" y1="936.70" x2="563.95" y2="1115.40" stroke="#c8c8cc" stroke-width="2.2" stroke-linecap="butt"/>
<line x1="617.35" y1="936.70" x2="617.35" y2="1115.40" stroke="#c8c8cc" stroke-width="2.2" stroke-linecap="butt"/>
<line x1="644.06" y1="936.70" x2="644.06" y2="1115.40" stroke="#c8c8cc" stroke-width="2.2" stroke-linecap="butt"/>
<line x1="697.46" y1="936.70" x2="697.46" y2="1115.40" stroke="#c8c8cc" stroke-width="2.2" stroke-linecap="butt"/>
<line x1="724.17" y1="936.70" x2="724.17" y2="1115.40" stroke="#c8c8cc" stroke-width="2.2" stroke-linecap="butt"/>
<line x1="777.57" y1="936.70" x2="777.57" y2="1115.40" stroke="#c8c8cc" stroke-width="2.2" stroke-linecap="butt"/>
<line x1="804.28" y1="936.70" x2="804.28" y2="1115.40" stroke="#c8c8cc" stroke-width="2.2" stroke-linecap="butt"/>
<line x1="857.68" y1="936.70" x2="857.68" y2="1115.40" stroke="#c8c8cc" stroke-width="2.2" stroke-linecap="butt"/>
<line x1="884.39" y1="936.70" x2="884.39" y2="1115.40" stroke="#c8c8cc" stroke-width="2.2" stroke-linecap="butt"/>
<line x1="937.79" y1="936.70" x2="937.79" y2="1115.40" stroke="#c8c8cc" stroke-width="2.2" stroke-linecap="butt"/>
<line x1="964.50" y1="936.70" x2="964.50" y2="1115.40" stroke="#c8c8cc" stroke-width="2.2" stroke-linecap="butt"/>
<line x1="190.10" y1="945.63" x2="991.20" y2="945.63" stroke="#c8c8cc" stroke-width="2.2" stroke-linecap="butt"/>
<line x1="190.10" y1="954.57" x2="991.20" y2="954.57" stroke="#c8c8cc" stroke-width="2.2" stroke-linecap="butt"/>
<line x1="190.10" y1="963.51" x2="991.20" y2="963.51" stroke="#c8c8cc" stroke-width="2.2" stroke-linecap="butt"/>
<line x1="190.10" y1="972.44" x2="991.20" y2="972.44" stroke="#c8c8cc" stroke-width="2.2" stroke-linecap="butt"/>
<line x1="190.10" y1="990.31" x2="991.20" y2="990.31" stroke="#c8c8cc" stroke-width="2.2" stroke-linecap="butt"/>
<line x1="190.10" y1="999.25" x2="991.20" y2="999.25" stroke="#c8c8cc" stroke-width="2.2" stroke-linecap="butt"/>
<line x1="190.10" y1="1008.18" x2="991.20" y2="1008.18" stroke="#c8c8cc" stroke-width="2.2" stroke-linecap="butt"/>
<line x1="190.10" y1="1017.12" x2="991.20" y2="1017.12" stroke="#c8c8cc" stroke-width="2.2" stroke-linecap="butt"/>
<line x1="190.10" y1="1034.99" x2="991.20" y2="1034.99" stroke="#c8c8cc" stroke-width="2.2" stroke-linecap="butt"/>
<line x1="190.10" y1="1043.92" x2="991.20" y2="1043.92" stroke="#c8c8cc" stroke-width="2.2" stroke-linecap="butt"/>
<line x1="190.10" y1="1052.86" x2="991.20" y2="1052.86" stroke="#c8c8cc" stroke-width="2.2" stroke-linecap="butt"/>
<line x1="190.10" y1="1061.79" x2="991.20" y2="1061.79" stroke="#c8c8cc" stroke-width="2.2" stroke-linecap="butt"/>
<line x1="190.10" y1="1079.66" x2="991.20" y2="1079.66" stroke="#c8c8cc" stroke-width="2.2" stroke-linecap="butt"/>
<line x1="190.10" y1="1088.60" x2="991.20" y2="1088.60" stroke="#c8c8cc" stroke-width="2.2" stroke-linecap="butt"/>
<line x1="190.10" y1="1097.53" x2="991.20" y2="1097.53" stroke="#c8c8cc" stroke-width="2.2" stroke-linecap="butt"/>
<line x1="190.10" y1="1106.47" x2="991.20" y2="1106.47" stroke="#c8c8cc" stroke-width="2.2" stroke-linecap="butt"/>
<line x1="185.60" y1="936.70" x2="993.40" y2="936.70" stroke="#231f20" stroke-width="4.4" stroke-linecap="butt"/>
<line x1="185.60" y1="981.38" x2="993.40" y2="981.38" stroke="#231f20" stroke-width="4.4" stroke-linecap="butt"/>
<line x1="185.60" y1="1026.05" x2="993.40" y2="1026.05" stroke="#231f20" stroke-width="4.4" stroke-linecap="butt"/>
<line x1="185.60" y1="1070.73" x2="993.40" y2="1070.73" stroke="#231f20" stroke-width="4.4" stroke-linecap="butt"/>
<line x1="185.60" y1="1115.40" x2="993.40" y2="1115.40" stroke="#231f20" stroke-width="4.4" stroke-linecap="butt"/>
<line x1="190.10" y1="934.50" x2="190.10" y2="1117.60" stroke="#231f20" stroke-width="4.4" stroke-linecap="butt"/>
<line x1="270.21" y1="934.50" x2="270.21" y2="1117.60" stroke="#231f20" stroke-width="4.4" stroke-linecap="butt"/>
<line x1="350.32" y1="934.50" x2="350.32" y2="1117.60" stroke="#231f20" stroke-width="4.4" stroke-linecap="butt"/>
<line x1="430.43" y1="934.50" x2="430.43" y2="1117.60" stroke="#231f20" stroke-width="4.4" stroke-linecap="butt"/>
<line x1="510.54" y1="934.50" x2="510.54" y2="1117.60" stroke="#231f20" stroke-width="4.4" stroke-linecap="butt"/>
<line x1="590.65" y1="934.50" x2="590.65" y2="1117.60" stroke="#231f20" stroke-width="4.4" stroke-linecap="butt"/>
<line x1="670.76" y1="934.50" x2="670.76" y2="1117.60" stroke="#231f20" stroke-width="4.4" stroke-linecap="butt"/>
<line x1="750.87" y1="934.50" x2="750.87" y2="1117.60" stroke="#231f20" stroke-width="4.4" stroke-linecap="butt"/>
<line x1="830.98" y1="934.50" x2="830.98" y2="1117.60" stroke="#231f20" stroke-width="4.4" stroke-linecap="butt"/>
<line x1="911.09" y1="934.50" x2="911.09" y2="1117.60" stroke="#231f20" stroke-width="4.4" stroke-linecap="butt"/>
<line x1="991.20" y1="934.50" x2="991.20" y2="1117.60" stroke="#231f20" stroke-width="4.4" stroke-linecap="butt"/>
<line x1="88.40" y1="936.70" x2="88.40" y2="1116.80" stroke="#231f20" stroke-width="4.2" stroke-linecap="butt"/>
<rect x="84.3" y="1113.2" width="8.6" height="4.4" fill="#231f20"/>
<text class="thin" x="80.2" y="1118.4" font-size="21" font-weight="normal" text-anchor="end" fill="#231f20" textLength="12.5" lengthAdjust="spacingAndGlyphs">0</text>
<rect x="84.3" y="1080.4" width="8.6" height="4.4" fill="#231f20"/>
<text class="thin" x="80.2" y="1085.6" font-size="21" font-weight="normal" text-anchor="end" fill="#231f20" textLength="12.5" lengthAdjust="spacingAndGlyphs">5</text>
<rect x="84.3" y="1047.6" width="8.6" height="4.4" fill="#231f20"/>
<text class="thin" x="80.2" y="1052.8" font-size="21" font-weight="normal" text-anchor="end" fill="#231f20" textLength="23.5" lengthAdjust="spacingAndGlyphs">10</text>
<rect x="84.3" y="1014.8" width="8.6" height="4.4" fill="#231f20"/>
<text class="thin" x="80.2" y="1020.0" font-size="21" font-weight="normal" text-anchor="end" fill="#231f20" textLength="23.5" lengthAdjust="spacingAndGlyphs">15</text>
<rect x="84.3" y="982.0" width="8.6" height="4.4" fill="#231f20"/>
<text class="thin" x="80.2" y="987.2" font-size="21" font-weight="normal" text-anchor="end" fill="#231f20" textLength="23.5" lengthAdjust="spacingAndGlyphs">20</text>
<rect x="84.3" y="949.2" width="8.6" height="4.4" fill="#231f20"/>
<text class="thin" x="80.2" y="954.4" font-size="21" font-weight="normal" text-anchor="end" fill="#231f20" textLength="23.5" lengthAdjust="spacingAndGlyphs">25</text>
<text class="thin" x="181.6" y="1117.4" font-size="21.5" font-weight="normal" text-anchor="end" fill="#231f20" textLength="12.5" lengthAdjust="spacingAndGlyphs">0</text>
<text class="thin" x="181.6" y="1072.7" font-size="21.5" font-weight="normal" text-anchor="end" fill="#231f20" textLength="12.5" lengthAdjust="spacingAndGlyphs">5</text>
<text class="thin" x="181.6" y="1028.1" font-size="21.5" font-weight="normal" text-anchor="end" fill="#231f20" textLength="24.1" lengthAdjust="spacingAndGlyphs">10</text>
<text class="thin" x="181.6" y="983.4" font-size="21.5" font-weight="normal" text-anchor="end" fill="#231f20" textLength="24.1" lengthAdjust="spacingAndGlyphs">15</text>
<text class="thin" x="181.6" y="938.7" font-size="21.5" font-weight="normal" text-anchor="end" fill="#231f20" textLength="24.1" lengthAdjust="spacingAndGlyphs">20</text>
<text class="thin" transform="translate(39.5,1041.7) rotate(-90)" x="0" y="0" font-size="20.5" font-weight="normal" fill="#231f20" textLength="29.6" lengthAdjust="spacingAndGlyphs">л.с.</text>
<text class="thin" transform="translate(143.2,1041.3) rotate(-90)" x="0" y="0" font-size="21" font-weight="normal" fill="#231f20" textLength="30.6" lengthAdjust="spacingAndGlyphs">кВт</text>
<path d="M430.10,1035.51 L433.10,1035.13 L436.10,1034.75 L439.11,1034.37 L442.11,1033.99 L445.11,1033.60 L448.11,1033.22 L451.12,1032.84 L454.12,1032.46 L457.12,1032.08 L460.12,1031.70 L463.13,1031.32 L466.13,1030.93 L469.13,1030.55 L472.13,1030.17 L475.14,1029.79 L478.14,1029.40 L481.14,1029.02 L484.14,1028.64 L487.15,1028.26 L490.15,1027.88 L493.15,1027.49 L496.15,1027.11 L499.16,1026.73 L502.16,1026.35 L505.16,1025.97 L508.16,1025.59 L511.17,1025.21 L514.17,1024.83 L517.17,1024.45 L520.17,1024.07 L523.18,1023.69 L526.18,1023.31 L529.18,1022.93 L532.18,1022.55 L535.18,1022.18 L538.19,1021.80 L541.19,1021.42 L544.19,1021.05 L547.19,1020.67 L550.20,1020.30 L553.20,1019.92 L556.20,1019.55 L559.20,1019.18 L562.21,1018.80 L565.21,1018.43 L568.21,1018.06 L571.21,1017.69 L574.22,1017.32 L577.22,1016.95 L580.22,1016.59 L583.22,1016.22 L586.23,1015.85 L589.23,1015.49 L592.23,1015.12 L595.23,1014.76 L598.24,1014.40 L601.24,1014.04 L604.24,1013.68 L607.24,1013.32 L610.25,1012.96 L613.25,1012.61 L616.25,1012.25 L619.25,1011.90 L622.26,1011.54 L625.26,1011.19 L628.26,1010.84 L631.26,1010.49 L634.26,1010.14 L637.27,1009.80 L640.27,1009.45 L643.27,1009.11 L646.27,1008.76 L649.28,1008.42 L652.28,1008.08 L655.28,1007.74 L658.28,1007.41 L661.29,1007.07 L664.29,1006.74 L667.29,1006.40 L670.29,1006.07 L673.30,1005.74 L676.30,1005.42 L679.30,1005.09 L682.30,1004.77 L685.31,1004.44 L688.31,1004.12 L691.31,1003.80 L694.31,1003.49 L697.32,1003.17 L700.32,1002.86 L703.32,1002.55 L706.32,1002.24 L709.33,1001.93 L712.33,1001.62 L715.33,1001.32 L718.33,1001.02 L721.34,1000.71 L724.34,1000.42 L727.34,1000.12 L730.34,999.83 L733.34,999.53 L736.35,999.24 L739.35,998.96 L742.35,998.67 L745.35,998.39 L748.36,998.11 L751.36,997.83 L754.36,997.55 L757.36,997.28 L760.37,997.01 L763.37,996.74 L766.37,996.47 L769.37,996.20 L772.38,995.94 L775.38,995.68 L778.38,995.42 L781.38,995.17 L784.39,994.92 L787.39,994.67 L790.39,994.42 L793.39,994.18 L796.40,993.93 L799.40,993.69 L802.40,993.46 L805.40,993.22 L808.41,992.99 L811.41,992.76 L814.41,992.54 L817.41,992.31 L820.42,992.09 L823.42,991.88 L826.42,991.66 L829.42,991.45 L832.42,991.24 L835.43,991.04 L838.43,990.83 L841.43,990.63 L844.43,990.44 L847.44,990.24 L850.44,990.05 L853.44,989.86 L856.44,989.68 L859.45,989.50 L862.45,989.32 L865.45,989.14 L868.45,988.97 L871.46,988.80 L874.46,988.64 L877.46,988.48 L880.46,988.32 L883.47,988.16 L886.47,988.01 L889.47,987.86 L892.47,987.72 L895.48,987.57 L898.48,987.44 L901.48,987.30 L904.48,987.17 L907.49,987.04 L910.49,986.92 L913.49,986.80 L916.49,986.68 L919.50,986.57 L922.50,986.46 L925.50,986.35" fill="none" stroke="#1163a9" stroke-width="4.5" stroke-linecap="butt" stroke-linejoin="round"/>
<path d="M430.10,1048.84 L433.11,1048.52 L436.12,1048.20 L439.13,1047.88 L442.14,1047.56 L445.15,1047.24 L448.16,1046.92 L451.17,1046.61 L454.18,1046.30 L457.19,1045.99 L460.20,1045.68 L463.21,1045.37 L466.22,1045.06 L469.23,1044.76 L472.24,1044.45 L475.25,1044.15 L478.26,1043.85 L481.27,1043.55 L484.28,1043.25 L487.29,1042.95 L490.30,1042.66 L493.31,1042.36 L496.32,1042.07 L499.32,1041.78 L502.33,1041.49 L505.34,1041.20 L508.35,1040.92 L511.36,1040.63 L514.37,1040.35 L517.38,1040.07 L520.39,1039.79 L523.40,1039.51 L526.41,1039.23 L529.42,1038.95 L532.43,1038.68 L535.44,1038.41 L538.45,1038.13 L541.46,1037.86 L544.47,1037.59 L547.48,1037.33 L550.49,1037.06 L553.50,1036.80 L556.51,1036.53 L559.52,1036.27 L562.53,1036.01 L565.54,1035.75 L568.55,1035.50 L571.56,1035.24 L574.57,1034.99 L577.58,1034.73 L580.59,1034.48 L583.60,1034.23 L586.61,1033.98 L589.62,1033.74 L592.63,1033.49 L595.64,1033.25 L598.65,1033.00 L601.66,1032.76 L604.67,1032.52 L607.68,1032.28 L610.69,1032.05 L613.70,1031.81 L616.71,1031.58 L619.72,1031.35 L622.73,1031.11 L625.74,1030.88 L628.75,1030.66 L631.75,1030.43 L634.76,1030.21 L637.77,1029.98 L640.78,1029.76 L643.79,1029.54 L646.80,1029.32 L649.81,1029.10 L652.82,1028.88 L655.83,1028.67 L658.84,1028.46 L661.85,1028.24 L664.86,1028.03 L667.87,1027.82 L670.88,1027.62 L673.89,1027.41 L676.90,1027.21 L679.91,1027.00 L682.92,1026.80 L685.93,1026.60 L688.94,1026.40 L691.95,1026.20 L694.96,1026.01 L697.97,1025.81 L700.98,1025.62 L703.99,1025.43 L707.00,1025.24 L710.01,1025.05 L713.02,1024.86 L716.03,1024.68 L719.04,1024.49 L722.05,1024.31 L725.06,1024.13 L728.07,1023.95 L731.08,1023.77 L734.09,1023.59 L737.10,1023.42 L740.11,1023.24 L743.12,1023.07 L746.13,1022.90 L749.14,1022.73 L752.15,1022.56 L755.16,1022.39 L758.17,1022.23 L761.18,1022.07 L764.18,1021.90 L767.19,1021.74 L770.20,1021.58 L773.21,1021.42 L776.22,1021.27 L779.23,1021.11 L782.24,1020.96 L785.25,1020.81 L788.26,1020.66 L791.27,1020.51 L794.28,1020.36 L797.29,1020.21 L800.30,1020.07 L803.31,1019.92 L806.32,1019.78 L809.33,1019.64 L812.34,1019.50 L815.35,1019.36 L818.36,1019.23 L821.37,1019.09 L824.38,1018.96 L827.39,1018.83 L830.40,1018.70" fill="none" stroke="#1163a9" stroke-width="4.5" stroke-linecap="butt" stroke-linejoin="round"/>
<path d="M430.10,1057.21 L433.11,1056.90 L436.12,1056.60 L439.13,1056.30 L442.14,1056.00 L445.15,1055.71 L448.16,1055.41 L451.17,1055.12 L454.18,1054.83 L457.19,1054.54 L460.20,1054.25 L463.21,1053.96 L466.22,1053.68 L469.23,1053.39 L472.24,1053.11 L475.25,1052.83 L478.26,1052.55 L481.27,1052.27 L484.28,1052.00 L487.29,1051.72 L490.30,1051.45 L493.31,1051.18 L496.32,1050.91 L499.32,1050.64 L502.33,1050.38 L505.34,1050.11 L508.35,1049.85 L511.36,1049.59 L514.37,1049.33 L517.38,1049.07 L520.39,1048.82 L523.40,1048.56 L526.41,1048.31 L529.42,1048.06 L532.43,1047.81 L535.44,1047.56 L538.45,1047.31 L541.46,1047.07 L544.47,1046.83 L547.48,1046.58 L550.49,1046.34 L553.50,1046.11 L556.51,1045.87 L559.52,1045.63 L562.53,1045.40 L565.54,1045.17 L568.55,1044.94 L571.56,1044.71 L574.57,1044.48 L577.58,1044.26 L580.59,1044.03 L583.60,1043.81 L586.61,1043.59 L589.62,1043.37 L592.63,1043.16 L595.64,1042.94 L598.65,1042.73 L601.66,1042.51 L604.67,1042.30 L607.68,1042.09 L610.69,1041.89 L613.70,1041.68 L616.71,1041.48 L619.72,1041.27 L622.73,1041.07 L625.74,1040.87 L628.75,1040.68 L631.75,1040.48 L634.76,1040.29 L637.77,1040.09 L640.78,1039.90 L643.79,1039.71 L646.80,1039.53 L649.81,1039.34 L652.82,1039.15 L655.83,1038.97 L658.84,1038.79 L661.85,1038.61 L664.86,1038.43 L667.87,1038.26 L670.88,1038.08 L673.89,1037.91 L676.90,1037.74 L679.91,1037.57 L682.92,1037.40 L685.93,1037.23 L688.94,1037.07 L691.95,1036.90 L694.96,1036.74 L697.97,1036.58 L700.98,1036.42 L703.99,1036.27 L707.00,1036.11 L710.01,1035.96 L713.02,1035.80 L716.03,1035.65 L719.04,1035.51 L722.05,1035.36 L725.06,1035.21 L728.07,1035.07 L731.08,1034.93 L734.09,1034.79 L737.10,1034.65 L740.11,1034.51 L743.12,1034.37 L746.13,1034.24 L749.14,1034.11 L752.15,1033.98 L755.16,1033.85 L758.17,1033.72 L761.18,1033.59 L764.18,1033.47 L767.19,1033.35 L770.20,1033.22 L773.21,1033.10 L776.22,1032.99 L779.23,1032.87 L782.24,1032.76 L785.25,1032.64 L788.26,1032.53 L791.27,1032.42 L794.28,1032.31 L797.29,1032.21 L800.30,1032.10 L803.31,1032.00 L806.32,1031.90 L809.33,1031.80 L812.34,1031.70 L815.35,1031.60 L818.36,1031.51 L821.37,1031.41 L824.38,1031.32 L827.39,1031.23 L830.40,1031.14" fill="none" stroke="#1163a9" stroke-width="4.5" stroke-linecap="butt" stroke-linejoin="round"/>
<text x="916.8" y="978.6" font-size="18" font-weight="bold" text-anchor="start" fill="#231f20" textLength="69.6" lengthAdjust="spacingAndGlyphs">183mm</text>
<text x="838.2" y="1020.0" font-size="18" font-weight="bold" text-anchor="start" fill="#231f20" textLength="69.0" lengthAdjust="spacingAndGlyphs">164mm</text>
<text x="838.2" y="1044.2" font-size="18" font-weight="bold" text-anchor="start" fill="#231f20" textLength="69.0" lengthAdjust="spacingAndGlyphs">155mm</text>
<text transform="translate(1033.9,1049.3) rotate(-90)" x="0" y="0" font-size="25" font-weight="normal" fill="#231f20" textLength="44.5" lengthAdjust="spacingAndGlyphs">P-Q</text>
<line x1="216.80" y1="1156.00" x2="216.80" y2="1292.80" stroke="#c8c8cc" stroke-width="2.2" stroke-linecap="butt"/>
<line x1="243.51" y1="1156.00" x2="243.51" y2="1292.80" stroke="#c8c8cc" stroke-width="2.2" stroke-linecap="butt"/>
<line x1="296.91" y1="1156.00" x2="296.91" y2="1292.80" stroke="#c8c8cc" stroke-width="2.2" stroke-linecap="butt"/>
<line x1="323.62" y1="1156.00" x2="323.62" y2="1292.80" stroke="#c8c8cc" stroke-width="2.2" stroke-linecap="butt"/>
<line x1="377.02" y1="1156.00" x2="377.02" y2="1292.80" stroke="#c8c8cc" stroke-width="2.2" stroke-linecap="butt"/>
<line x1="403.73" y1="1156.00" x2="403.73" y2="1292.80" stroke="#c8c8cc" stroke-width="2.2" stroke-linecap="butt"/>
<line x1="457.13" y1="1156.00" x2="457.13" y2="1292.80" stroke="#c8c8cc" stroke-width="2.2" stroke-linecap="butt"/>
<line x1="483.84" y1="1156.00" x2="483.84" y2="1292.80" stroke="#c8c8cc" stroke-width="2.2" stroke-linecap="butt"/>
<line x1="537.24" y1="1156.00" x2="537.24" y2="1292.80" stroke="#c8c8cc" stroke-width="2.2" stroke-linecap="butt"/>
<line x1="563.95" y1="1156.00" x2="563.95" y2="1292.80" stroke="#c8c8cc" stroke-width="2.2" stroke-linecap="butt"/>
<line x1="617.35" y1="1156.00" x2="617.35" y2="1292.80" stroke="#c8c8cc" stroke-width="2.2" stroke-linecap="butt"/>
<line x1="644.06" y1="1156.00" x2="644.06" y2="1292.80" stroke="#c8c8cc" stroke-width="2.2" stroke-linecap="butt"/>
<line x1="697.46" y1="1156.00" x2="697.46" y2="1292.80" stroke="#c8c8cc" stroke-width="2.2" stroke-linecap="butt"/>
<line x1="724.17" y1="1156.00" x2="724.17" y2="1292.80" stroke="#c8c8cc" stroke-width="2.2" stroke-linecap="butt"/>
<line x1="777.57" y1="1156.00" x2="777.57" y2="1292.80" stroke="#c8c8cc" stroke-width="2.2" stroke-linecap="butt"/>
<line x1="804.28" y1="1156.00" x2="804.28" y2="1292.80" stroke="#c8c8cc" stroke-width="2.2" stroke-linecap="butt"/>
<line x1="857.68" y1="1156.00" x2="857.68" y2="1292.80" stroke="#c8c8cc" stroke-width="2.2" stroke-linecap="butt"/>
<line x1="884.39" y1="1156.00" x2="884.39" y2="1292.80" stroke="#c8c8cc" stroke-width="2.2" stroke-linecap="butt"/>
<line x1="937.79" y1="1156.00" x2="937.79" y2="1292.80" stroke="#c8c8cc" stroke-width="2.2" stroke-linecap="butt"/>
<line x1="964.50" y1="1156.00" x2="964.50" y2="1292.80" stroke="#c8c8cc" stroke-width="2.2" stroke-linecap="butt"/>
<line x1="190.10" y1="1178.80" x2="991.20" y2="1178.80" stroke="#c8c8cc" stroke-width="2.2" stroke-linecap="butt"/>
<line x1="190.10" y1="1201.60" x2="991.20" y2="1201.60" stroke="#c8c8cc" stroke-width="2.2" stroke-linecap="butt"/>
<line x1="190.10" y1="1247.20" x2="991.20" y2="1247.20" stroke="#c8c8cc" stroke-width="2.2" stroke-linecap="butt"/>
<line x1="190.10" y1="1270.00" x2="991.20" y2="1270.00" stroke="#c8c8cc" stroke-width="2.2" stroke-linecap="butt"/>
<line x1="185.60" y1="1156.00" x2="993.40" y2="1156.00" stroke="#231f20" stroke-width="4.4" stroke-linecap="butt"/>
<line x1="185.60" y1="1224.40" x2="993.40" y2="1224.40" stroke="#231f20" stroke-width="4.4" stroke-linecap="butt"/>
<line x1="185.60" y1="1292.80" x2="993.40" y2="1292.80" stroke="#231f20" stroke-width="4.4" stroke-linecap="butt"/>
<line x1="190.10" y1="1153.80" x2="190.10" y2="1295.00" stroke="#231f20" stroke-width="4.4" stroke-linecap="butt"/>
<line x1="270.21" y1="1153.80" x2="270.21" y2="1295.00" stroke="#231f20" stroke-width="4.4" stroke-linecap="butt"/>
<line x1="350.32" y1="1153.80" x2="350.32" y2="1295.00" stroke="#231f20" stroke-width="4.4" stroke-linecap="butt"/>
<line x1="430.43" y1="1153.80" x2="430.43" y2="1295.00" stroke="#231f20" stroke-width="4.4" stroke-linecap="butt"/>
<line x1="510.54" y1="1153.80" x2="510.54" y2="1295.00" stroke="#231f20" stroke-width="4.4" stroke-linecap="butt"/>
<line x1="590.65" y1="1153.80" x2="590.65" y2="1295.00" stroke="#231f20" stroke-width="4.4" stroke-linecap="butt"/>
<line x1="670.76" y1="1153.80" x2="670.76" y2="1295.00" stroke="#231f20" stroke-width="4.4" stroke-linecap="butt"/>
<line x1="750.87" y1="1153.80" x2="750.87" y2="1295.00" stroke="#231f20" stroke-width="4.4" stroke-linecap="butt"/>
<line x1="830.98" y1="1153.80" x2="830.98" y2="1295.00" stroke="#231f20" stroke-width="4.4" stroke-linecap="butt"/>
<line x1="911.09" y1="1153.80" x2="911.09" y2="1295.00" stroke="#231f20" stroke-width="4.4" stroke-linecap="butt"/>
<line x1="991.20" y1="1153.80" x2="991.20" y2="1295.00" stroke="#231f20" stroke-width="4.4" stroke-linecap="butt"/>
<line x1="88.40" y1="1156.70" x2="88.40" y2="1294.00" stroke="#231f20" stroke-width="4.2" stroke-linecap="butt"/>
<rect x="84.3" y="1290.6" width="8.6" height="4.4" fill="#231f20"/>
<text class="thin" x="80.2" y="1295.8" font-size="21" font-weight="normal" text-anchor="end" fill="#231f20" textLength="12.5" lengthAdjust="spacingAndGlyphs">0</text>
<rect x="84.3" y="1255.9" width="8.6" height="4.4" fill="#231f20"/>
<text class="thin" x="80.2" y="1261.1" font-size="21" font-weight="normal" text-anchor="end" fill="#231f20" textLength="24.1" lengthAdjust="spacingAndGlyphs">10</text>
<rect x="84.3" y="1221.1" width="8.6" height="4.4" fill="#231f20"/>
<text class="thin" x="80.2" y="1226.3" font-size="21" font-weight="normal" text-anchor="end" fill="#231f20" textLength="24.1" lengthAdjust="spacingAndGlyphs">20</text>
<rect x="84.3" y="1186.4" width="8.6" height="4.4" fill="#231f20"/>
<text class="thin" x="80.2" y="1191.6" font-size="21" font-weight="normal" text-anchor="end" fill="#231f20" textLength="24.1" lengthAdjust="spacingAndGlyphs">30</text>
<text class="thin" x="181.6" y="1294.8" font-size="21.5" font-weight="normal" text-anchor="end" fill="#231f20" textLength="12.5" lengthAdjust="spacingAndGlyphs">0</text>
<text class="thin" x="181.6" y="1226.4" font-size="21.5" font-weight="normal" text-anchor="end" fill="#231f20" textLength="12.5" lengthAdjust="spacingAndGlyphs">6</text>
<text class="thin" x="181.6" y="1159.0" font-size="21.5" font-weight="normal" text-anchor="end" fill="#231f20" textLength="24.1" lengthAdjust="spacingAndGlyphs">12</text>
<text class="thin" transform="translate(39.5,1252.4) rotate(-90)" x="0" y="0" font-size="20.5" font-weight="normal" fill="#231f20" textLength="55.2" lengthAdjust="spacingAndGlyphs">футов</text>
<text class="thin" transform="translate(143.2,1230.3) rotate(-90)" x="0" y="0" font-size="20.5" font-weight="normal" fill="#231f20" textLength="10.3" lengthAdjust="spacingAndGlyphs">м</text>
<path d="M430.10,1265.53 L433.10,1265.47 L436.10,1265.41 L439.11,1265.34 L442.11,1265.27 L445.11,1265.21 L448.11,1265.14 L451.12,1265.06 L454.12,1264.99 L457.12,1264.91 L460.12,1264.84 L463.13,1264.76 L466.13,1264.68 L469.13,1264.59 L472.13,1264.51 L475.14,1264.42 L478.14,1264.33 L481.14,1264.24 L484.14,1264.14 L487.15,1264.05 L490.15,1263.95 L493.15,1263.85 L496.15,1263.74 L499.16,1263.64 L502.16,1263.53 L505.16,1263.42 L508.16,1263.30 L511.17,1263.19 L514.17,1263.07 L517.17,1262.95 L520.17,1262.83 L523.18,1262.70 L526.18,1262.57 L529.18,1262.44 L532.18,1262.30 L535.18,1262.17 L538.19,1262.02 L541.19,1261.88 L544.19,1261.73 L547.19,1261.58 L550.20,1261.43 L553.20,1261.28 L556.20,1261.12 L559.20,1260.95 L562.21,1260.79 L565.21,1260.62 L568.21,1260.45 L571.21,1260.27 L574.22,1260.09 L577.22,1259.91 L580.22,1259.73 L583.22,1259.54 L586.23,1259.34 L589.23,1259.15 L592.23,1258.95 L595.23,1258.74 L598.24,1258.54 L601.24,1258.32 L604.24,1258.11 L607.24,1257.89 L610.25,1257.67 L613.25,1257.44 L616.25,1257.21 L619.25,1256.98 L622.26,1256.74 L625.26,1256.50 L628.26,1256.25 L631.26,1256.00 L634.26,1255.74 L637.27,1255.48 L640.27,1255.22 L643.27,1254.95 L646.27,1254.68 L649.28,1254.40 L652.28,1254.12 L655.28,1253.84 L658.28,1253.55 L661.29,1253.25 L664.29,1252.95 L667.29,1252.65 L670.29,1252.34 L673.30,1252.03 L676.30,1251.71 L679.30,1251.39 L682.30,1251.06 L685.31,1250.73 L688.31,1250.39 L691.31,1250.05 L694.31,1249.70 L697.32,1249.35 L700.32,1248.99 L703.32,1248.63 L706.32,1248.26 L709.33,1247.89 L712.33,1247.51 L715.33,1247.13 L718.33,1246.74 L721.34,1246.35 L724.34,1245.95 L727.34,1245.54 L730.34,1245.13 L733.34,1244.72 L736.35,1244.30 L739.35,1243.87 L742.35,1243.44 L745.35,1243.00 L748.36,1242.56 L751.36,1242.11 L754.36,1241.65 L757.36,1241.19 L760.37,1240.72 L763.37,1240.25 L766.37,1239.77 L769.37,1239.29 L772.38,1238.80 L775.38,1238.30 L778.38,1237.80 L781.38,1237.29 L784.39,1236.77 L787.39,1236.25 L790.39,1235.73 L793.39,1235.19 L796.40,1234.65 L799.40,1234.11 L802.40,1233.55 L805.40,1232.99 L808.41,1232.43 L811.41,1231.86 L814.41,1231.28 L817.41,1230.69 L820.42,1230.10 L823.42,1229.50 L826.42,1228.90 L829.42,1228.28 L832.42,1227.66 L835.43,1227.04 L838.43,1226.41 L841.43,1225.77 L844.43,1225.12 L847.44,1224.47 L850.44,1223.81 L853.44,1223.14 L856.44,1222.46 L859.45,1221.78 L862.45,1221.09 L865.45,1220.40 L868.45,1219.69 L871.46,1218.98 L874.46,1218.26 L877.46,1217.54 L880.46,1216.80 L883.47,1216.06 L886.47,1215.32 L889.47,1214.56 L892.47,1213.80 L895.48,1213.03 L898.48,1212.25 L901.48,1211.46 L904.48,1210.67 L907.49,1209.87 L910.49,1209.06 L913.49,1208.24 L916.49,1207.41 L919.50,1206.58 L922.50,1205.74 L925.50,1204.89" fill="none" stroke="#1163a9" stroke-width="4.6" stroke-linecap="butt" stroke-linejoin="round"/>
<text transform="translate(1033.9,1265.3) rotate(-90)" x="0" y="0" font-size="25" font-weight="normal" fill="#231f20" textLength="77.0" lengthAdjust="spacingAndGlyphs">NPSHr</text>
<text class="thin" x="190.1" y="1321.8" font-size="22" font-weight="normal" text-anchor="middle" fill="#231f20" textLength="12.3" lengthAdjust="spacingAndGlyphs">0</text>
<text class="thin" x="270.2" y="1321.8" font-size="22" font-weight="normal" text-anchor="middle" fill="#231f20" textLength="23.0" lengthAdjust="spacingAndGlyphs">15</text>
<text class="thin" x="350.3" y="1321.8" font-size="22" font-weight="normal" text-anchor="middle" fill="#231f20" textLength="23.0" lengthAdjust="spacingAndGlyphs">30</text>
<text class="thin" x="430.4" y="1321.8" font-size="22" font-weight="normal" text-anchor="middle" fill="#231f20" textLength="23.0" lengthAdjust="spacingAndGlyphs">45</text>
<text class="thin" x="510.5" y="1321.8" font-size="22" font-weight="normal" text-anchor="middle" fill="#231f20" textLength="23.0" lengthAdjust="spacingAndGlyphs">60</text>
<text class="thin" x="590.6" y="1321.8" font-size="22" font-weight="normal" text-anchor="middle" fill="#231f20" textLength="23.0" lengthAdjust="spacingAndGlyphs">75</text>
<text class="thin" x="670.8" y="1321.8" font-size="22" font-weight="normal" text-anchor="middle" fill="#231f20" textLength="23.0" lengthAdjust="spacingAndGlyphs">90</text>
<text class="thin" x="750.9" y="1321.8" font-size="22" font-weight="normal" text-anchor="middle" fill="#231f20" textLength="33.5" lengthAdjust="spacingAndGlyphs">105</text>
<text class="thin" x="831.0" y="1321.8" font-size="22" font-weight="normal" text-anchor="middle" fill="#231f20" textLength="33.5" lengthAdjust="spacingAndGlyphs">120</text>
<text class="thin" x="911.1" y="1321.8" font-size="22" font-weight="normal" text-anchor="middle" fill="#231f20" textLength="33.5" lengthAdjust="spacingAndGlyphs">135</text>
<text class="thin" x="991.2" y="1321.8" font-size="22" font-weight="normal" text-anchor="middle" fill="#231f20" textLength="33.5" lengthAdjust="spacingAndGlyphs">150</text>
<text class="thin" x="454.9" y="1344.9" font-size="21.5" font-weight="normal" text-anchor="start" fill="#231f20" textLength="267.8" lengthAdjust="spacingAndGlyphs">Производительность Q (м³/ч)</text>
<line x1="185.50" y1="1381.90" x2="990.50" y2="1381.90" stroke="#231f20" stroke-width="4.4" stroke-linecap="butt"/>
<rect x="187.8" y="1377.4" width="4.6" height="9.2" fill="#231f20"/>
<rect x="309.1" y="1377.4" width="4.6" height="9.2" fill="#231f20"/>
<rect x="430.4" y="1377.4" width="4.6" height="9.2" fill="#231f20"/>
<rect x="551.7" y="1377.4" width="4.6" height="9.2" fill="#231f20"/>
<rect x="673.0" y="1377.4" width="4.6" height="9.2" fill="#231f20"/>
<rect x="794.3" y="1377.4" width="4.6" height="9.2" fill="#231f20"/>
<rect x="915.6" y="1377.4" width="4.6" height="9.2" fill="#231f20"/>
<text class="thin" x="190.1" y="1411.1" font-size="21.5" font-weight="normal" text-anchor="middle" fill="#231f20" textLength="11.8" lengthAdjust="spacingAndGlyphs">0</text>
<text class="thin" x="311.4" y="1411.1" font-size="21.5" font-weight="normal" text-anchor="middle" fill="#231f20" textLength="32.8" lengthAdjust="spacingAndGlyphs">100</text>
<text class="thin" x="432.7" y="1411.1" font-size="21.5" font-weight="normal" text-anchor="middle" fill="#231f20" textLength="32.2" lengthAdjust="spacingAndGlyphs">200</text>
<text class="thin" x="554.0" y="1411.1" font-size="21.5" font-weight="normal" text-anchor="middle" fill="#231f20" textLength="32.2" lengthAdjust="spacingAndGlyphs">300</text>
<text class="thin" x="675.3" y="1411.1" font-size="21.5" font-weight="normal" text-anchor="middle" fill="#231f20" textLength="32.2" lengthAdjust="spacingAndGlyphs">400</text>
<text class="thin" x="796.6" y="1411.1" font-size="21.5" font-weight="normal" text-anchor="middle" fill="#231f20" textLength="32.2" lengthAdjust="spacingAndGlyphs">500</text>
<text class="thin" x="917.9" y="1411.1" font-size="21.5" font-weight="normal" text-anchor="middle" fill="#231f20" textLength="32.2" lengthAdjust="spacingAndGlyphs">600</text>
<text class="thin" x="421.0" y="1435.0" font-size="21.5" font-weight="normal" text-anchor="start" fill="#231f20" textLength="334.8" lengthAdjust="spacingAndGlyphs">Производительность (гал. США/мин)</text>
</g></svg>
</body></html>
